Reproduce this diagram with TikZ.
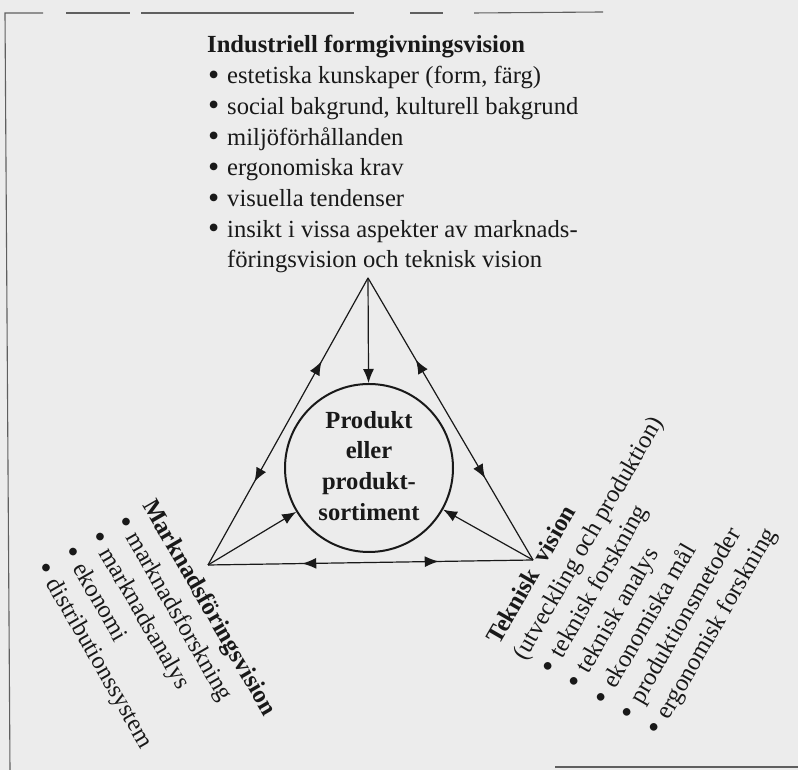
\documentclass[tikz,border=0pt]{standalone}
\usepackage{fontspec}
\usepackage{graphicx}
\setmainfont{Liberation Serif}
\usetikzlibrary{arrows.meta,decorations.markings}
\definecolor{bg}{RGB}{236,236,236}
\definecolor{ink}{RGB}{25,25,25}
\definecolor{framecol}{RGB}{95,95,95}
\newcommand\txtsize{\fontsize{24.6}{30.7}\selectfont}
\newcommand\bul{\makebox[20pt][l]{\hspace*{1pt}\raisebox{-1.6pt}{\scalebox{1.3}{\textbullet}}}}
\newcommand\bulind{\hspace*{20pt}}
\tikzset{
  lbl/.style={inner sep=0pt, anchor=base west, font=\txtsize, text=ink},
  edge/.style={draw=ink, line width=1.2pt},
  tipend/.style={-{Latex[length=14pt,width=11pt]}},
  midarrows/.style={postaction={decorate}, decoration={markings,
      mark=at position 0.29 with {\arrowreversed{Latex[length=14pt,width=11pt]}},
      mark=at position 0.71 with {\arrow{Latex[length=14pt,width=11pt]}}}},
  framestyle/.style={draw=framecol, line width=1.1pt},
}
\begin{document}
\begin{tikzpicture}[x=1pt,y=1pt]
\fill[bg] (0,0) rectangle (798,770);
\useasboundingbox (0,0) rectangle (798,770);
% frame remnants
\draw[framestyle] (43,757) -- (5,757) -- (10,0);
\draw[framestyle] (66,757) -- (130,757);
\draw[framestyle] (141,757) -- (354,757);
\draw[framestyle] (410,757) -- (443,757);
\draw[framestyle] (474,757) -- (603,758);
\draw[framestyle] (555,3) -- (798,3);
% vertices
\coordinate (T) at (368,492);
\coordinate (L) at (208,205);
\coordinate (R) at (533,210);
% central circle
\node[circle, draw=ink, line width=2pt, minimum size=168pt, inner sep=0pt,
      font=\txtsize\bfseries, text=ink] (prod) at (369,302)
  {\begin{tabular}{@{}c@{}}Produkt\\eller\\produkt-\\sortiment\end{tabular}};
% triangle
\draw[edge,midarrows] (T) -- (L);
\draw[edge,midarrows] (T) -- (R);
\draw[edge,midarrows] (L) -- (R);
% spokes
\draw[edge,tipend] (T) -- (prod);
\draw[edge,tipend] (L) -- (prod);
\draw[edge,tipend] (R) -- (prod);
% text blocks
\node[lbl] (ind) at (207,717) {\begin{tabular}[t]{@{}l@{}}
\textbf{Industriell formgivningsvision}\\
\bul estetiska kunskaper (form, färg)\\
\bul social bakgrund, kulturell bakgrund\\
\bul miljöförhållanden\\
\bul ergonomiska krav\\
\bul visuella tendenser\\
\bul insikt i vissa aspekter av marknads-\\
\bulind föringsvision och teknisk vision
\end{tabular}};
\node[lbl, rotate=-60] (mark) at (142,265) {\begin{tabular}[t]{@{}l@{}}
\textbf{Marknadsföringsvision}\\
\bul marknadsforskning\\
\bul marknadsanalys\\
\bul ekonomi\\
\bul distributionssystem
\end{tabular}};
\node[lbl, rotate=60] (tek) at (499,124) {\begin{tabular}[t]{@{}l@{}}
\textbf{Teknisk\hskip0.45em vision}\\
(utveckling och produktion)\\
\bul teknisk forskning\\
\bul teknisk analys\\
\bul ekonomiska mål\\
\bul produktionsmetoder\\
\bul ergonomisk forskning
\end{tabular}};
\end{tikzpicture}
\end{document}
